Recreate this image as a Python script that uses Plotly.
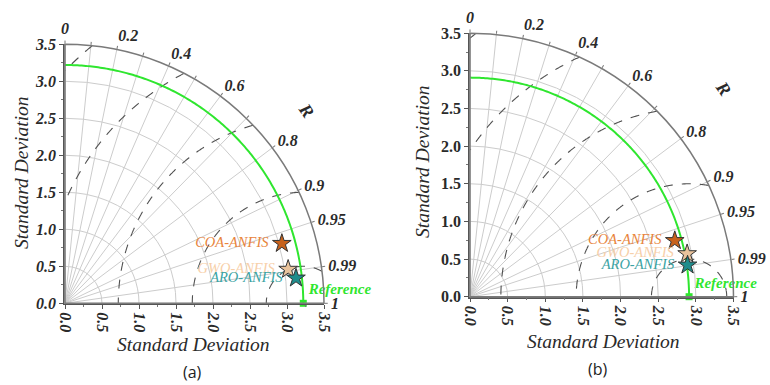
import numpy as np
import plotly.graph_objects as go

# ---------------- data ----------------
models = ["COA-ANFIS", "GWO-ANFIS", "ARO-ANFIS"]
a_std = [3.04, 3.05, 3.14]
a_corr = [0.964, 0.9886, 0.9941]
a_ref = 3.22
b_std = [2.82, 2.94, 2.92]
b_corr = [0.9645, 0.981, 0.9896]
b_ref = 2.91

corr_ticks = [0, 0.1, 0.2, 0.3, 0.4, 0.5, 0.6, 0.7, 0.8, 0.9, 0.95, 0.99, 1]
corr_labels = ["0", "", "0.2", "", "0.4", "", "0.6", "", "0.8", "0.9", "0.95", "0.99", "1"]
std_ticks = [0.0, 0.5, 1.0, 1.5, 2.0, 2.5, 3.0, 3.5]
std_labels = ["0.0", "0.5", "1.0", "1.5", "2.0", "2.5", "3.0", "3.5"]
rms_levels = [0.5, 1.5, 2.5, 3.5, 4.5]
std_max = 3.5
axis_title = "Standard Deviation"

# ---------------- style ----------------
star_fill = ["#c8621c", "#e9c39c", "#1f8c8c"]
label_col = ["#e8843c", "#f7cfa9", "#3aa3a3"]
green = "#2fe62f"
serif = "Times New Roman"
ink = "#2a2a2a"

W, H = 770, 385
panels = [
    dict(name="a", left=65, top=44.3, size=259, std=a_std, corr=a_corr, ref=a_ref,
         ystyle="italic", tsize=19.5, R=(306, 110), cap=(193, 372),
         xt=(194, 344), yt=(21, 173)),
    dict(name="b", left=470, top=33.2, size=263.5, std=b_std, corr=b_corr, ref=b_ref,
         ystyle="normal", tsize=19.5, R=(723, 88), cap=(598, 369),
         xt=(603, 341), yt=(423, 162)),
]

fig = go.Figure()


def rms_arc(ref, d, rmax):
    phi = np.linspace(0, np.pi, 1441)
    x = ref + d * np.cos(phi)
    y = d * np.sin(phi)
    r = np.hypot(x, y)
    th = np.degrees(np.arctan2(y, x))
    m = (r <= rmax) & (x >= 0)
    return r[m], th[m]


def ann(x, y, text, font, angle=0):
    return dict(x=x / W, y=1 - y / H, xref="paper", yref="paper", text=text,
                showarrow=False, textangle=angle, xanchor="center", yanchor="middle",
                font=font)


layout_updates = {}
annotations = []
for i, p in enumerate(panels):
    sfx = "" if i == 0 else str(i + 1)
    polar_id = "polar" + sfx
    xa, ya = "x" + sfx, "y" + sfx
    x0 = p["left"] / W
    x1 = (p["left"] + p["size"]) / W
    y0 = (H - p["top"] - p["size"]) / H
    y1 = (H - p["top"]) / H

    for d in rms_levels:
        r, th = rms_arc(p["ref"], d, std_max)
        fig.add_trace(go.Scatterpolar(r=r, theta=th, mode="lines", subplot=polar_id,
                                      line=dict(color="#505050", width=1.1, dash="dash"),
                                      hoverinfo="skip", showlegend=False))
    th = np.linspace(0, 90, 181)
    fig.add_trace(go.Scatterpolar(r=np.full_like(th, p["ref"]), theta=th, mode="lines",
                                  subplot=polar_id, line=dict(color=green, width=2),
                                  hoverinfo="skip", showlegend=False))
    for k, mname in enumerate(models):
        fig.add_trace(go.Scatterpolar(
            r=[p["std"][k]], theta=[float(np.degrees(np.arccos(p["corr"][k])))],
            mode="markers+text", subplot=polar_id, text=[mname + " "],
            textposition="middle left",
            textfont=dict(family=serif, size=14.5, style="italic", color=label_col[k]),
            marker=dict(symbol="star", size=14, color=star_fill[k],
                        line=dict(color="#333333", width=1)),
            cliponaxis=False, showlegend=False, name=mname))
    fig.add_trace(go.Scatter(x=[p["ref"]], y=[0], xaxis=xa, yaxis=ya,
                             mode="markers+text", text=["Reference"],
                             textposition="top right",
                             textfont=dict(family=serif, size=15, style="italic",
                                           weight="bold", color=green),
                             marker=dict(symbol="square", size=7, color=green),
                             cliponaxis=False, showlegend=False, hoverinfo="skip"))

    layout_updates[polar_id] = dict(
        domain=dict(x=[x0, x1], y=[y0, y1]),
        sector=[0, 90],
        bgcolor="rgba(0,0,0,0)",
        radialaxis=dict(range=[0, std_max], tickmode="array", tickvals=std_ticks[1:-1],
                        showticklabels=False, ticks="", showline=False,
                        gridcolor="#cccccc", gridwidth=1),
        angularaxis=dict(direction="counterclockwise", rotation=0, tickmode="array",
                         tickvals=[float(np.degrees(np.arccos(c))) for c in corr_ticks],
                         ticktext=corr_labels, ticks="outside", ticklen=3,
                         tickcolor="#777777",
                         gridcolor="#cccccc", gridwidth=1, showline=True,
                         linecolor="#7a7a7a", linewidth=1.5,
                         tickfont=dict(family=serif, size=16, style="italic",
                                       weight="bold", color=ink)),
    )
    axis_common = dict(range=[0, std_max], tickmode="array", tickvals=std_ticks,
                       ticktext=std_labels, showgrid=False, zeroline=False,
                       showline=True, linecolor="#555555", linewidth=1.5,
                       ticks="outside", ticklen=4, tickcolor="#555555",
                       minor=dict(ticks="outside", ticklen=2, tickcolor="#777777",
                                  tickmode="array",
                                  tickvals=[v + 0.25 for v in std_ticks[:-1]]),
                       fixedrange=True, automargin=False)
    layout_updates["xaxis" + sfx] = dict(
        axis_common, domain=[x0, x1], anchor=ya, tickangle=90,
        tickfont=dict(family=serif, size=16, style="italic", weight="bold", color=ink))
    layout_updates["yaxis" + sfx] = dict(
        axis_common, domain=[y0, y1], anchor=xa,
        tickfont=dict(family=serif, size=16, style=p["ystyle"], weight="bold", color=ink))

    tfont = dict(family=serif, size=p["tsize"], style="italic", color=ink)
    annotations.append(ann(p["xt"][0], p["xt"][1], axis_title, tfont))
    annotations.append(ann(p["yt"][0], p["yt"][1], axis_title, tfont, angle=-90))
    annotations.append(ann(p["R"][0], p["R"][1], "R",
                           dict(family=serif, size=18, style="italic", weight="bold",
                                color=ink), angle=55))
    annotations.append(ann(p["cap"][0], p["cap"][1], "(" + p["name"] + ")",
                           dict(family="Open Sans", size=16, color="#222222")))

fig.update_layout(width=W, height=H, margin=dict(l=0, r=0, t=0, b=0, autoexpand=False),
                  paper_bgcolor="white", plot_bgcolor="rgba(0,0,0,0)",
                  showlegend=False, annotations=annotations, **layout_updates)

fig.write_html("out.html", config={"displayModeBar": False},
               post_script="document.body.style.margin='0';")
